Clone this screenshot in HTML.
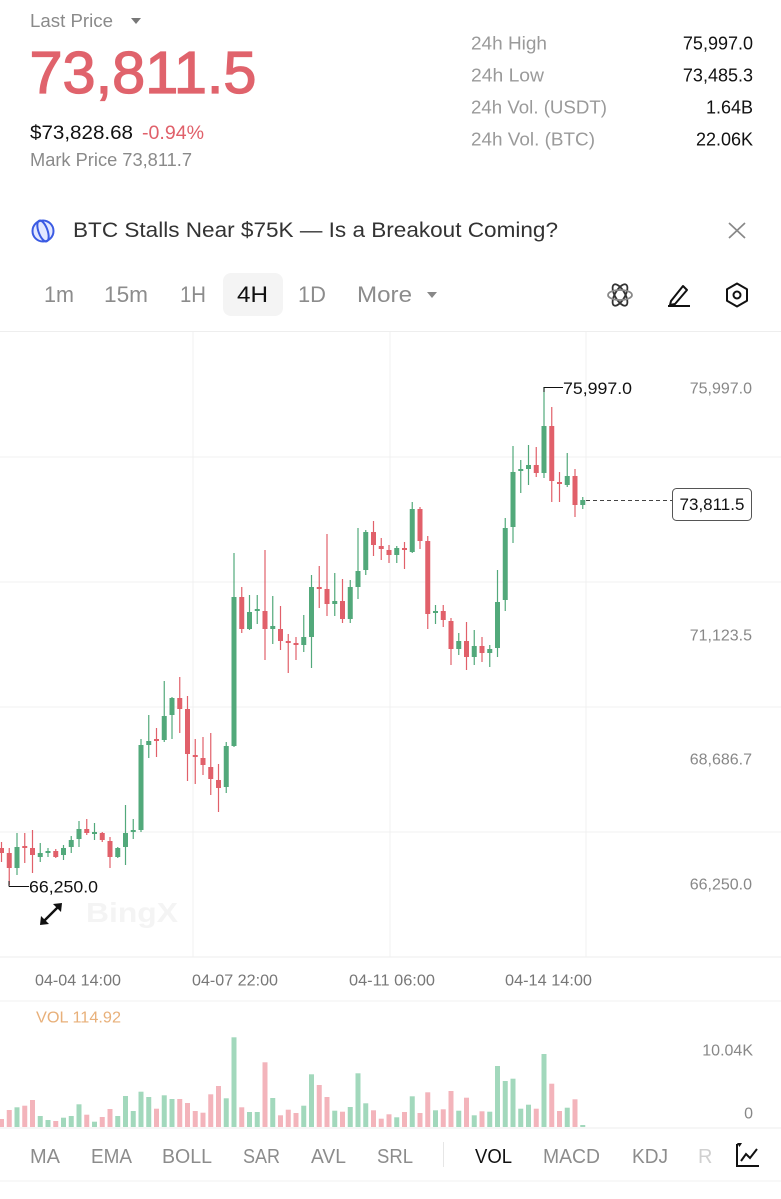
<!DOCTYPE html>
<html><head><meta charset="utf-8"><style>
html,body{margin:0;padding:0;background:#fff;width:781px;height:1199px;overflow:hidden}
svg{display:block;font-family:"Liberation Sans",sans-serif}
</style></head><body>
<svg width="781" height="1199" viewBox="0 0 781 1199" xmlns="http://www.w3.org/2000/svg">
<rect width="781" height="1199" fill="#fff"/>
<!-- header -->
<text x="30" y="27" font-size="18" fill="#8a8a8a" textLength="83" lengthAdjust="spacingAndGlyphs">Last Price</text>
<path d="M131 18 L141 18 L136 24 Z" fill="#777"/>
<text x="29.5" y="93" font-size="59" fill="#e0636c" stroke="#e0636c" stroke-width="1.3" textLength="227" lengthAdjust="spacingAndGlyphs">73,811.5</text>
<text x="30" y="139" font-size="19" fill="#111" textLength="103" lengthAdjust="spacingAndGlyphs">$73,828.68</text>
<text x="142" y="139" font-size="19" fill="#e0606a" textLength="62" lengthAdjust="spacingAndGlyphs">-0.94%</text>
<text x="30" y="166" font-size="18" fill="#8a8a8a" textLength="162" lengthAdjust="spacingAndGlyphs">Mark Price 73,811.7</text>
<g font-size="18" fill="#9a9a9a">
<text x="471" y="49.5" textLength="76" lengthAdjust="spacingAndGlyphs">24h High</text>
<text x="471" y="81.5" textLength="73" lengthAdjust="spacingAndGlyphs">24h Low</text>
<text x="471" y="113.5" textLength="136" lengthAdjust="spacingAndGlyphs">24h Vol. (USDT)</text>
<text x="471" y="145.5" textLength="124" lengthAdjust="spacingAndGlyphs">24h Vol. (BTC)</text>
</g>
<g font-size="18" fill="#111" text-anchor="end">
<text x="753" y="49.5">75,997.0</text>
<text x="753" y="81.5">73,485.3</text>
<text x="753" y="113.5">1.64B</text>
<text x="753" y="145.5">22.06K</text>
</g>
<!-- banner -->
<circle cx="43" cy="231" r="10.5" fill="#e3e8ff" stroke="#3b5be3" stroke-width="2"/>
<ellipse cx="43" cy="231" rx="4.5" ry="11" fill="none" stroke="#3b5be3" stroke-width="2" transform="rotate(-20 43 231)"/>
<text x="73" y="237" font-size="21" fill="#333" textLength="485" lengthAdjust="spacingAndGlyphs">BTC Stalls Near $75K — Is a Breakout Coming?</text>
<path d="M729 223 L745 238 M745 223 L729 238" stroke="#888" stroke-width="1.7"/>
<!-- tabs -->
<rect x="223" y="273" width="60" height="43" rx="8" fill="#f4f4f4"/>
<g font-size="22" fill="#8c8c8c">
<text x="44" y="302" textLength="30" lengthAdjust="spacingAndGlyphs">1m</text>
<text x="104" y="302" textLength="44" lengthAdjust="spacingAndGlyphs">15m</text>
<text x="180" y="302" textLength="26" lengthAdjust="spacingAndGlyphs">1H</text>
<text x="237" y="302" fill="#111" textLength="31" lengthAdjust="spacingAndGlyphs">4H</text>
<text x="298" y="302" textLength="28" lengthAdjust="spacingAndGlyphs">1D</text>
<text x="357" y="302" textLength="55" lengthAdjust="spacingAndGlyphs">More</text>
</g>
<path d="M427 292 L437 292 L432 298 Z" fill="#888"/>
<!-- tool icons -->
<g fill="none" stroke="#333" stroke-width="1.8">
<ellipse cx="620" cy="295" rx="12" ry="5" transform="rotate(60 620 295)"/>
<ellipse cx="620" cy="295" rx="12" ry="5" transform="rotate(-60 620 295)"/>
<ellipse cx="620" cy="295" rx="12" ry="5" stroke="#888"/>
</g>
<g fill="none" stroke="#111" stroke-width="2">
<path d="M671 301 L683 286 L687 290 L675 304 L670 305 Z" stroke-linejoin="round"/>
<path d="M668 306 L690 306"/>
<path d="M737 283.5 L747 289.2 L747 300.8 L737 306.5 L727 300.8 L727 289.2 Z" stroke-linejoin="round"/>
<circle cx="737" cy="295" r="3.5"/>
</g>
<!-- separators & grid -->
<rect x="0" y="331" width="781" height="1" fill="#eeeeee"/>
<g fill="#f1f1f1">
<rect x="0" y="456.5" width="781" height="1"/>
<rect x="0" y="581.5" width="781" height="1"/>
<rect x="0" y="706.5" width="781" height="1"/>
<rect x="0" y="831.5" width="781" height="1"/>
<rect x="0" y="956.5" width="781" height="1" fill="#ececec"/>
<rect x="192.5" y="332" width="1" height="625"/>
<rect x="389.5" y="332" width="1" height="625"/>
<rect x="585.5" y="332" width="1" height="625"/>
<rect x="0" y="1000.5" width="781" height="1"/>
<rect x="0" y="1127.5" width="781" height="1" fill="#ececec"/>
<rect x="0" y="1180.5" width="781" height="1"/>
</g>
<!-- watermark -->
<text x="86" y="922" font-size="28" font-weight="bold" fill="#f4f4f4" textLength="92" lengthAdjust="spacingAndGlyphs">BingX</text>
<!-- expand icon -->
<g stroke="#111" stroke-width="2.5" fill="none">
<path d="M44 921 L58 907"/>
</g>
<path d="M62 903 L61 912 L53 904 Z" fill="#111"/>
<path d="M40 925 L41 916 L49 924 Z" fill="#111"/>
<!-- right axis labels -->
<g font-size="16" fill="#888" text-anchor="end">
<text x="752" y="393.5">75,997.0</text>
<text x="752" y="640.5">71,123.5</text>
<text x="752" y="764.5">68,686.7</text>
<text x="752" y="889.5">66,250.0</text>
</g>
<!-- green candles -->
<g fill="#52a97b">
<rect x="14.5" y="847" width="5" height="21"/><rect x="16.4" y="833" width="1.2" height="42"/>
<rect x="37.75" y="853" width="5" height="4"/><rect x="39.65" y="843" width="1.2" height="19"/>
<rect x="45.5" y="851" width="5" height="2"/><rect x="47.4" y="848" width="1.2" height="9"/>
<rect x="61" y="848" width="5" height="7"/><rect x="62.9" y="845" width="1.2" height="15"/>
<rect x="68.75" y="840" width="5" height="7"/><rect x="70.65" y="836" width="1.2" height="17"/>
<rect x="76.5" y="829" width="5" height="10"/><rect x="78.4" y="821" width="1.2" height="26"/>
<rect x="92" y="832" width="5" height="2"/><rect x="93.9" y="823" width="1.2" height="17"/>
<rect x="115.25" y="848" width="5" height="9"/><rect x="117.15" y="847" width="1.2" height="11"/>
<rect x="123" y="833" width="5" height="14"/><rect x="124.9" y="805" width="1.2" height="60"/>
<rect x="130.75" y="830" width="5" height="2"/><rect x="132.65" y="819" width="1.2" height="20"/>
<rect x="138.5" y="745" width="5" height="85"/><rect x="140.4" y="739" width="1.2" height="93"/>
<rect x="146.25" y="741" width="5" height="4"/><rect x="148.15" y="715" width="1.2" height="43"/>
<rect x="161.75" y="716" width="5" height="24"/><rect x="163.65" y="681" width="1.2" height="61"/>
<rect x="169.5" y="698" width="5" height="17"/><rect x="171.4" y="697" width="1.2" height="42"/>
<rect x="223.75" y="746" width="5" height="41"/><rect x="225.65" y="742" width="1.2" height="51"/>
<rect x="231.5" y="597" width="5" height="149"/><rect x="233.4" y="553" width="1.2" height="194"/>
<rect x="247" y="612" width="5" height="17"/><rect x="248.9" y="595" width="1.2" height="35"/>
<rect x="254.75" y="609" width="5" height="2"/><rect x="256.65" y="595" width="1.2" height="29"/>
<rect x="270.25" y="626" width="5" height="3"/><rect x="272.15" y="596" width="1.2" height="48"/>
<rect x="301.25" y="637" width="5" height="8"/><rect x="303.15" y="615" width="1.2" height="37"/>
<rect x="309" y="587" width="5" height="50"/><rect x="310.9" y="575" width="1.2" height="93"/>
<rect x="332.25" y="601" width="5" height="3"/><rect x="334.15" y="573" width="1.2" height="43"/>
<rect x="347.75" y="587" width="5" height="32"/><rect x="349.65" y="580" width="1.2" height="43"/>
<rect x="355.5" y="571" width="5" height="16"/><rect x="357.4" y="528" width="1.2" height="71"/>
<rect x="363.25" y="532" width="5" height="38"/><rect x="365.15" y="530" width="1.2" height="45"/>
<rect x="394.25" y="548" width="5" height="7"/><rect x="396.15" y="546" width="1.2" height="17"/>
<rect x="409.75" y="509" width="5" height="43"/><rect x="411.65" y="502" width="1.2" height="51"/>
<rect x="433" y="611" width="5" height="2"/><rect x="434.9" y="605" width="1.2" height="19"/>
<rect x="456.25" y="641" width="5" height="8"/><rect x="458.15" y="633" width="1.2" height="22"/>
<rect x="471.75" y="646" width="5" height="11"/><rect x="473.65" y="630" width="1.2" height="35"/>
<rect x="487.25" y="649" width="5" height="4"/><rect x="489.15" y="645" width="1.2" height="22"/>
<rect x="495" y="602" width="5" height="46"/><rect x="496.9" y="570" width="1.2" height="87"/>
<rect x="502.75" y="528" width="5" height="72"/><rect x="504.65" y="518" width="1.2" height="93"/>
<rect x="510.5" y="472" width="5" height="55"/><rect x="512.4" y="446" width="1.2" height="97"/>
<rect x="518.25" y="469" width="5" height="2"/><rect x="520.15" y="460" width="1.2" height="33"/>
<rect x="526" y="465" width="5" height="4"/><rect x="527.9" y="445" width="1.2" height="40"/>
<rect x="541.5" y="426" width="5" height="47"/><rect x="543.4" y="387" width="1.2" height="91"/>
<rect x="564.75" y="476" width="5" height="9"/><rect x="566.65" y="453" width="1.2" height="34"/>
<rect x="580.25" y="500" width="5" height="5"/><rect x="582.15" y="497" width="1.2" height="12"/>
</g>
<!-- red candles -->
<g fill="#e1606a">
<rect x="-1" y="848" width="5" height="5"/><rect x="0.9" y="842" width="1.2" height="20"/>
<rect x="6.75" y="853" width="5" height="15"/><rect x="8.65" y="848" width="1.2" height="37"/>
<rect x="22.25" y="846" width="5" height="2"/><rect x="24.15" y="833" width="1.2" height="30"/>
<rect x="30" y="848" width="5" height="7"/><rect x="31.9" y="830" width="1.2" height="43"/>
<rect x="53.25" y="851" width="5" height="6"/><rect x="55.15" y="849" width="1.2" height="9"/>
<rect x="84.25" y="829" width="5" height="4"/><rect x="86.15" y="819" width="1.2" height="16"/>
<rect x="99.75" y="833" width="5" height="7"/><rect x="101.65" y="832" width="1.2" height="10"/>
<rect x="107.5" y="841" width="5" height="16"/><rect x="109.4" y="837" width="1.2" height="31"/>
<rect x="154" y="739" width="5" height="2"/><rect x="155.9" y="728" width="1.2" height="29"/>
<rect x="177.25" y="698" width="5" height="11"/><rect x="179.15" y="677" width="1.2" height="56"/>
<rect x="185" y="709" width="5" height="45"/><rect x="186.9" y="696" width="1.2" height="85"/>
<rect x="192.75" y="755" width="5" height="2"/><rect x="194.65" y="739" width="1.2" height="45"/>
<rect x="200.5" y="758" width="5" height="7"/><rect x="202.4" y="737" width="1.2" height="38"/>
<rect x="208.25" y="767" width="5" height="12"/><rect x="210.15" y="733" width="1.2" height="62"/>
<rect x="216" y="780" width="5" height="8"/><rect x="217.9" y="764" width="1.2" height="48"/>
<rect x="239.25" y="597" width="5" height="32"/><rect x="241.15" y="587" width="1.2" height="46"/>
<rect x="262.5" y="611" width="5" height="18"/><rect x="264.4" y="550" width="1.2" height="110"/>
<rect x="278" y="629" width="5" height="12"/><rect x="279.9" y="606" width="1.2" height="44"/>
<rect x="285.75" y="641" width="5" height="2"/><rect x="287.65" y="634" width="1.2" height="39"/>
<rect x="293.5" y="643" width="5" height="2"/><rect x="295.4" y="637" width="1.2" height="23"/>
<rect x="316.75" y="587" width="5" height="2"/><rect x="318.65" y="566" width="1.2" height="42"/>
<rect x="324.5" y="589" width="5" height="15"/><rect x="326.4" y="534" width="1.2" height="82"/>
<rect x="340" y="601" width="5" height="18"/><rect x="341.9" y="579" width="1.2" height="44"/>
<rect x="371" y="532" width="5" height="13"/><rect x="372.9" y="521" width="1.2" height="35"/>
<rect x="378.75" y="546" width="5" height="3"/><rect x="380.65" y="538" width="1.2" height="22"/>
<rect x="386.5" y="550" width="5" height="5"/><rect x="388.4" y="545" width="1.2" height="18"/>
<rect x="402" y="548" width="5" height="2"/><rect x="403.9" y="542" width="1.2" height="27"/>
<rect x="417.5" y="509" width="5" height="32"/><rect x="419.4" y="507" width="1.2" height="42"/>
<rect x="425.25" y="541" width="5" height="73"/><rect x="427.15" y="536" width="1.2" height="93"/>
<rect x="440.75" y="611" width="5" height="9"/><rect x="442.65" y="605" width="1.2" height="22"/>
<rect x="448.5" y="621" width="5" height="28"/><rect x="450.4" y="618" width="1.2" height="47"/>
<rect x="464" y="641" width="5" height="16"/><rect x="465.9" y="622" width="1.2" height="48"/>
<rect x="479.5" y="646" width="5" height="7"/><rect x="481.4" y="637" width="1.2" height="25"/>
<rect x="533.75" y="465" width="5" height="8"/><rect x="535.65" y="447" width="1.2" height="30"/>
<rect x="549.25" y="426" width="5" height="55"/><rect x="551.15" y="407" width="1.2" height="95"/>
<rect x="557" y="482" width="5" height="2"/><rect x="558.9" y="472" width="1.2" height="30"/>
<rect x="572.5" y="476" width="5" height="29"/><rect x="574.4" y="469" width="1.2" height="48"/>
</g>
<!-- max / min markers -->
<path d="M544 387.5 L563 387.5 M544 387 L544 392" stroke="#111" stroke-width="1"/>
<text x="563" y="394" font-size="17" fill="#111" textLength="69" lengthAdjust="spacingAndGlyphs">75,997.0</text>
<path d="M9 886.5 L29 886.5 M9 881 L9 886.5" stroke="#111" stroke-width="1"/>
<text x="29" y="892.5" font-size="17" fill="#111" textLength="69" lengthAdjust="spacingAndGlyphs">66,250.0</text>
<!-- current price -->
<path d="M586 500.5 L672 500.5" stroke="#444" stroke-width="1" stroke-dasharray="4 3"/>
<rect x="672.5" y="488.5" width="79" height="32" rx="4" fill="#fff" stroke="#555" stroke-width="1"/>
<text x="712" y="510" font-size="17" fill="#111" text-anchor="middle">73,811.5</text>
<!-- x axis -->
<g font-size="16" fill="#777">
<text x="35" y="985.5" textLength="86" lengthAdjust="spacingAndGlyphs">04-04 14:00</text>
<text x="192" y="985.5" textLength="86" lengthAdjust="spacingAndGlyphs">04-07 22:00</text>
<text x="349" y="985.5" textLength="86" lengthAdjust="spacingAndGlyphs">04-11 06:00</text>
<text x="505" y="985.5" textLength="87" lengthAdjust="spacingAndGlyphs">04-14 14:00</text>
</g>
<!-- volume -->
<text x="36" y="1022.5" font-size="16" fill="#e8b07a" textLength="85" lengthAdjust="spacingAndGlyphs">VOL 114.92</text>
<text x="753" y="1055.5" font-size="16" fill="#888" text-anchor="end">10.04K</text>
<text x="753" y="1118.5" font-size="16" fill="#888" text-anchor="end">0</text>
<g fill="#a2d8bc">
<rect x="14.5" y="1107.3" width="5" height="19.7"/>
<rect x="37.75" y="1116" width="5" height="11"/>
<rect x="45.5" y="1120" width="5" height="7"/>
<rect x="61" y="1117.7" width="5" height="9.3"/>
<rect x="68.75" y="1116" width="5" height="11"/>
<rect x="76.5" y="1104.3" width="5" height="22.7"/>
<rect x="92" y="1121.7" width="5" height="5.3"/>
<rect x="115.25" y="1116" width="5" height="11"/>
<rect x="123" y="1096" width="5" height="31"/>
<rect x="130.75" y="1111" width="5" height="16"/>
<rect x="138.5" y="1091.7" width="5" height="35.3"/>
<rect x="146.25" y="1097" width="5" height="30"/>
<rect x="161.75" y="1095.3" width="5" height="31.7"/>
<rect x="169.5" y="1099" width="5" height="28"/>
<rect x="223.75" y="1098.3" width="5" height="28.7"/>
<rect x="231.5" y="1037.3" width="5" height="89.7"/>
<rect x="247" y="1112" width="5" height="15"/>
<rect x="254.75" y="1112" width="5" height="15"/>
<rect x="270.25" y="1098" width="5" height="29"/>
<rect x="301.25" y="1105.7" width="5" height="21.3"/>
<rect x="309" y="1074.3" width="5" height="52.7"/>
<rect x="332.25" y="1110.7" width="5" height="16.3"/>
<rect x="347.75" y="1107" width="5" height="20"/>
<rect x="355.5" y="1073.3" width="5" height="53.7"/>
<rect x="363.25" y="1103.3" width="5" height="23.7"/>
<rect x="394.25" y="1117.3" width="5" height="9.7"/>
<rect x="409.75" y="1096.3" width="5" height="30.7"/>
<rect x="433" y="1110.3" width="5" height="16.7"/>
<rect x="456.25" y="1110.7" width="5" height="16.3"/>
<rect x="471.75" y="1115.3" width="5" height="11.7"/>
<rect x="487.25" y="1111.7" width="5" height="15.3"/>
<rect x="495" y="1066" width="5" height="61"/>
<rect x="502.75" y="1081" width="5" height="46"/>
<rect x="510.5" y="1078.7" width="5" height="48.3"/>
<rect x="518.25" y="1108.7" width="5" height="18.3"/>
<rect x="526" y="1104.7" width="5" height="22.3"/>
<rect x="541.5" y="1054" width="5" height="73"/>
<rect x="564.75" y="1107.7" width="5" height="19.3"/>
<rect x="580.25" y="1125" width="5" height="2"/>
</g>
<g fill="#f3b4bb">
<rect x="-1" y="1119" width="5" height="8"/>
<rect x="6.75" y="1110" width="5" height="17"/>
<rect x="22.25" y="1105.7" width="5" height="21.3"/>
<rect x="30" y="1100" width="5" height="27"/>
<rect x="53.25" y="1121" width="5" height="6"/>
<rect x="84.25" y="1114.7" width="5" height="12.3"/>
<rect x="99.75" y="1117" width="5" height="10"/>
<rect x="107.5" y="1109" width="5" height="18"/>
<rect x="154" y="1108.7" width="5" height="18.3"/>
<rect x="177.25" y="1099" width="5" height="28"/>
<rect x="185" y="1103" width="5" height="24"/>
<rect x="192.75" y="1111" width="5" height="16"/>
<rect x="200.5" y="1112.7" width="5" height="14.3"/>
<rect x="208.25" y="1094.3" width="5" height="32.7"/>
<rect x="216" y="1086" width="5" height="41"/>
<rect x="239.25" y="1107.3" width="5" height="19.7"/>
<rect x="262.5" y="1062.3" width="5" height="64.7"/>
<rect x="278" y="1115.3" width="5" height="11.7"/>
<rect x="285.75" y="1109.7" width="5" height="17.3"/>
<rect x="293.5" y="1113" width="5" height="14"/>
<rect x="316.75" y="1085" width="5" height="42"/>
<rect x="324.5" y="1097" width="5" height="30"/>
<rect x="340" y="1111.7" width="5" height="15.3"/>
<rect x="371" y="1110.3" width="5" height="16.7"/>
<rect x="378.75" y="1118.7" width="5" height="8.3"/>
<rect x="386.5" y="1114.3" width="5" height="12.7"/>
<rect x="402" y="1112" width="5" height="15"/>
<rect x="417.5" y="1113" width="5" height="14"/>
<rect x="425.25" y="1092.3" width="5" height="34.7"/>
<rect x="440.75" y="1109.3" width="5" height="17.7"/>
<rect x="448.5" y="1091" width="5" height="36"/>
<rect x="464" y="1097.7" width="5" height="29.3"/>
<rect x="479.5" y="1111.3" width="5" height="15.7"/>
<rect x="533.75" y="1108.7" width="5" height="18.3"/>
<rect x="549.25" y="1083.7" width="5" height="43.3"/>
<rect x="557" y="1111" width="5" height="16"/>
<rect x="572.5" y="1099.3" width="5" height="27.7"/>
</g>
<!-- bottom indicator bar -->
<g font-size="20" fill="#8c8c8c">
<text x="30" y="1163" textLength="30" lengthAdjust="spacingAndGlyphs">MA</text>
<text x="91" y="1163" textLength="41" lengthAdjust="spacingAndGlyphs">EMA</text>
<text x="162" y="1163" textLength="50" lengthAdjust="spacingAndGlyphs">BOLL</text>
<text x="243" y="1163" textLength="37" lengthAdjust="spacingAndGlyphs">SAR</text>
<text x="311" y="1163" textLength="35" lengthAdjust="spacingAndGlyphs">AVL</text>
<text x="377" y="1163" textLength="36" lengthAdjust="spacingAndGlyphs">SRL</text>
<text x="475" y="1163" fill="#111" textLength="37" lengthAdjust="spacingAndGlyphs">VOL</text>
<text x="543" y="1163" textLength="57" lengthAdjust="spacingAndGlyphs">MACD</text>
<text x="632" y="1163" textLength="36" lengthAdjust="spacingAndGlyphs">KDJ</text>
<text x="698" y="1163" fill="#d0d0d0">R</text>
</g>
<rect x="443" y="1142" width="1" height="25" fill="#e6e6e6"/>
<g fill="none" stroke="#111" stroke-width="2">
<path d="M737 1144 L737 1166 L759 1166"/>
<path d="M741 1161 L746 1154 L750 1158 L757 1149"/>
</g>
<path d="M737 1143 L742 1143 L739.5 1147 Z" fill="#111"/>
</svg>
</body></html>
